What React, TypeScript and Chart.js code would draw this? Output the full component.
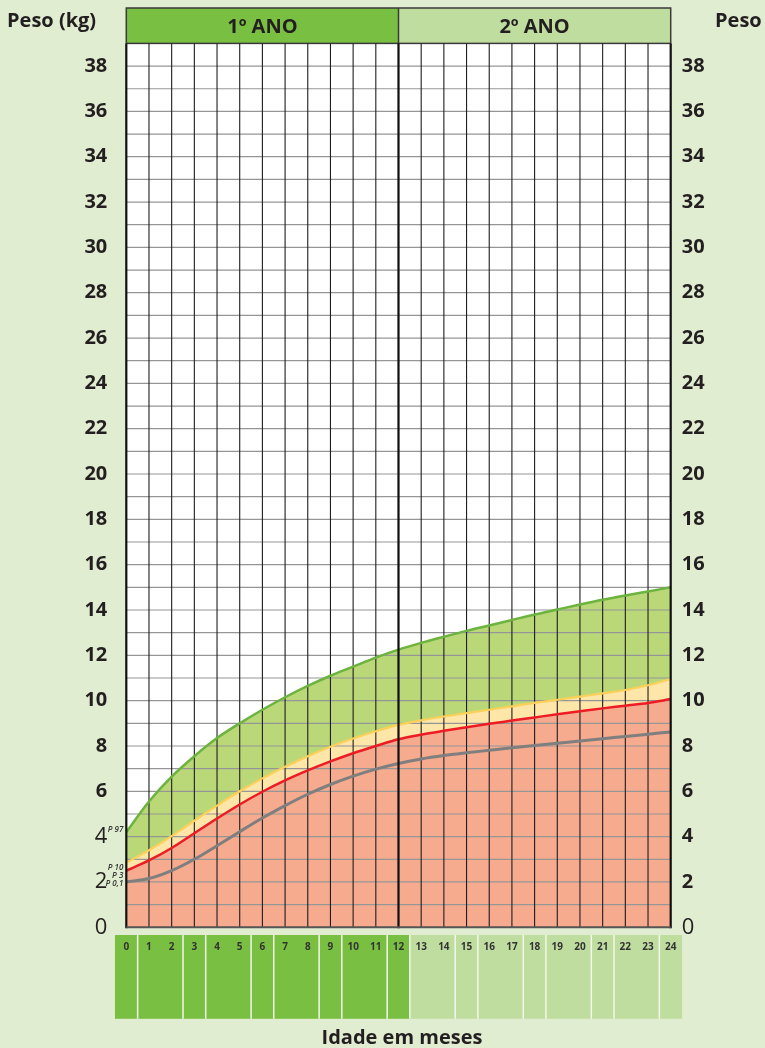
import React, { useEffect, useRef } from 'react';
import { Chart, registerables } from 'chart.js';

Chart.register(...registerables);

// ---- data ----
const months = [0, 1, 2, 3, 4, 5, 6, 7, 8, 9, 10, 11, 12, 13, 14, 15, 16, 17, 18, 19, 20, 21, 22, 23, 24];
const p97 = [4.2, 5.55, 6.65, 7.55, 8.35, 9.0, 9.6, 10.15, 10.65, 11.1, 11.5, 11.9, 12.25, 12.55, 12.82, 13.08, 13.32, 13.56, 13.8, 14.02, 14.24, 14.45, 14.64, 14.82, 15.0];
const p10 = [2.85, 3.4, 4.02, 4.7, 5.37, 6.0, 6.57, 7.08, 7.55, 7.97, 8.33, 8.65, 8.93, 9.13, 9.3, 9.45, 9.6, 9.75, 9.9, 10.04, 10.18, 10.32, 10.47, 10.68, 10.95];
const p3 = [2.5, 2.95, 3.5, 4.15, 4.8, 5.42, 5.98, 6.48, 6.92, 7.32, 7.68, 8.0, 8.3, 8.5, 8.67, 8.83, 8.98, 9.12, 9.26, 9.4, 9.53, 9.66, 9.78, 9.9, 10.07];
const p01 = [2.0, 2.15, 2.5, 3.0, 3.6, 4.22, 4.82, 5.37, 5.87, 6.3, 6.67, 6.98, 7.23, 7.43, 7.58, 7.7, 7.81, 7.92, 8.02, 8.12, 8.22, 8.32, 8.42, 8.52, 8.62];
const percentileNames = ['P 97', 'P 10', 'P 3', 'P 0,1'];
const yearLabels = ['1º ANO', '2º ANO'];
const bandBreaks = [-0.5, 0.5, 2.5, 3.5, 5.5, 6.5, 8.5, 9.5, 11.5, 12.5, 14.5, 15.5, 17.5, 18.5, 20.5, 21.5, 23.5, 24.5];
const yAxisTitle = 'Peso (kg)';
const xAxisTitle = 'Idade em meses';
const yMin = 0;
const yMax = 39;
const xMin = 0;
const xMax = 24;

// ---- styles ----
const FONT = '"Open Sans", "Noto Sans", sans-serif';
const BG = '#e0edd0';
const DARK_GREEN = '#79bf42';
const LIGHT_GREEN = '#bfdd9e';
const TEXT = '#231f20';

const pts = (arr: number[]) => months.map((m, i) => ({ x: m, y: arr[i] }));

const decor = {
  id: 'growthDecor',
  beforeDraw(chart: any) {
    const { ctx, chartArea: a, scales } = chart;
    const x = scales.x;
    ctx.save();
    ctx.fillStyle = BG;
    ctx.fillRect(0, 0, chart.width, chart.height);
    ctx.fillStyle = '#ffffff';
    ctx.fillRect(a.left, a.top, a.right - a.left, a.bottom - a.top);

    // header
    const hTop = 8;
    const xMid = x.getPixelForValue(12);
    ctx.fillStyle = DARK_GREEN;
    ctx.fillRect(a.left, hTop, xMid - a.left, a.top - hTop);
    ctx.fillStyle = LIGHT_GREEN;
    ctx.fillRect(xMid, hTop, a.right - xMid, a.top - hTop);
    ctx.strokeStyle = '#3a3a3a';
    ctx.lineWidth = 1.5;
    ctx.strokeRect(a.left, hTop, a.right - a.left, a.top - hTop);
    ctx.beginPath();
    ctx.moveTo(xMid, hTop);
    ctx.lineTo(xMid, a.top);
    ctx.stroke();
    ctx.fillStyle = TEXT;
    ctx.font = `bold 20px ${FONT}`;
    ctx.textAlign = 'center';
    ctx.textBaseline = 'middle';
    ctx.fillText(yearLabels[0], (a.left + xMid) / 2, (hTop + a.top) / 2 + 2);
    ctx.fillText(yearLabels[1], (xMid + a.right) / 2, (hTop + a.top) / 2 + 2);

    // bottom month band
    const bTop = a.bottom + 7.7;
    const bBot = a.bottom + 91.5;
    for (let i = 0; i < bandBreaks.length - 1; i++) {
      const x0 = x.getPixelForValue(bandBreaks[i]);
      const x1 = x.getPixelForValue(bandBreaks[i + 1]);
      ctx.fillStyle = bandBreaks[i] < 12 ? DARK_GREEN : LIGHT_GREEN;
      ctx.fillRect(x0, bTop, x1 - x0, bBot - bTop);
    }
    ctx.strokeStyle = '#f2f7ea';
    ctx.lineWidth = 1.5;
    for (let i = 1; i < bandBreaks.length - 1; i++) {
      const xp = x.getPixelForValue(bandBreaks[i]);
      ctx.beginPath();
      ctx.moveTo(xp, bTop);
      ctx.lineTo(xp, bBot);
      ctx.stroke();
    }
    ctx.restore();
  },
  beforeDatasetsDraw(chart: any) {
    const { ctx, chartArea: a, scales } = chart;
    const x = scales.x;
    const y = scales.y;
    ctx.save();
    // horizontal grid (every kg)
    ctx.strokeStyle = '#969696';
    ctx.lineWidth = 1.2;
    for (let v = yMin + 1; v < yMax; v++) {
      const yp = y.getPixelForValue(v);
      ctx.beginPath();
      ctx.moveTo(a.left, yp);
      ctx.lineTo(a.right, yp);
      ctx.stroke();
    }
    // vertical grid (every month)
    ctx.strokeStyle = '#1e1e1e';
    ctx.lineWidth = 1.1;
    for (let m = xMin + 1; m < xMax; m++) {
      const xp = x.getPixelForValue(m);
      ctx.beginPath();
      ctx.moveTo(xp, a.top);
      ctx.lineTo(xp, a.bottom);
      ctx.stroke();
    }
    ctx.restore();
  },
  afterDatasetsDraw(chart: any) {
    const { ctx, chartArea: a, scales } = chart;
    const x = scales.x;
    ctx.save();
    ctx.strokeStyle = '#111';
    ctx.lineWidth = 2.2;
    const x12 = x.getPixelForValue(12);
    [a.left, x12, a.right].forEach((xp: number) => {
      ctx.beginPath();
      ctx.moveTo(xp, a.top);
      ctx.lineTo(xp, a.bottom + 1);
      ctx.stroke();
    });
    ctx.strokeStyle = '#555';
    ctx.lineWidth = 2;
    ctx.beginPath();
    ctx.moveTo(a.left, a.bottom);
    ctx.lineTo(a.right, a.bottom);
    ctx.stroke();

    // percentile labels
    ctx.fillStyle = '#333';
    ctx.font = `italic 600 8px ${FONT}`;
    ctx.textAlign = 'right';
    ctx.textBaseline = 'middle';
    const lx = a.left - 3;
    ctx.fillText(percentileNames[0], lx, 830);
    ctx.fillText(percentileNames[1], lx, 868);
    ctx.fillText(percentileNames[2], lx, 876);
    ctx.fillText(percentileNames[3], lx, 884);
    ctx.restore();
  },
  afterDraw(chart: any) {
    const { ctx } = chart;
    ctx.save();
    ctx.fillStyle = TEXT;
    ctx.font = `bold 20px ${FONT}`;
    ctx.textBaseline = 'middle';
    ctx.textAlign = 'left';
    ctx.fillText(yAxisTitle, 7, 21);
    ctx.fillText(yAxisTitle, 715, 21);
    ctx.textAlign = 'center';
    ctx.fillText(xAxisTitle, 402, 1038);
    ctx.restore();
  },
};

export default function App() {
  const ref = useRef<HTMLCanvasElement | null>(null);
  useEffect(() => {
    if (!ref.current) return;
    const bold20 = { family: FONT, size: 20, weight: 'bold' as const };
    const big = { family: FONT, size: 22, weight: 'normal' as const };
    const chart = new Chart(ref.current, {
      type: 'line',
      data: {
        datasets: [
          {
            label: 'P97',
            data: pts(p97),
            borderColor: '#6cb33f',
            borderWidth: 2.5,
            backgroundColor: '#bad878',
            fill: '+1',
            order: 4,
          },
          {
            label: 'P10',
            data: pts(p10),
            borderColor: '#fdd059',
            borderWidth: 2.2,
            backgroundColor: '#fee5a8',
            fill: '+1',
            order: 3,
          },
          {
            label: 'P3',
            data: pts(p3),
            borderColor: '#ed1c24',
            borderWidth: 2.5,
            backgroundColor: '#f6aa8e',
            fill: 'origin',
            order: 2,
          },
          {
            label: 'P0.1',
            data: pts(p01),
            borderColor: '#7f7f7f',
            borderWidth: 3,
            fill: false,
            order: 1,
          },
        ],
      },
      options: {
        responsive: false,
        animation: false,
        devicePixelRatio: 1,
        elements: {
          point: { radius: 0 },
          line: { cubicInterpolationMode: 'monotone' },
        },
        layout: { padding: { top: 43.4, left: 0, right: 0, bottom: 0 } },
        plugins: {
          legend: { display: false },
          tooltip: { enabled: false },
          title: { display: false },
          filler: { drawTime: 'beforeDatasetsDraw', propagate: false },
        } as any,
        scales: {
          x: {
            type: 'linear',
            position: 'bottom',
            min: xMin,
            max: xMax,
            grid: { display: false, drawTicks: false },
            border: { display: false },
            afterFit: (s: any) => {
              s.height = 120.7;
            },
            ticks: {
              stepSize: 1,
              autoSkip: false,
              maxRotation: 0,
              maxTicksLimit: 100,
              padding: 14,
              color: '#333',
              font: { family: FONT, size: 10, weight: 'bold' },
            },
          },
          y: {
            type: 'linear',
            position: 'left',
            min: yMin,
            max: yMax,
            grid: { display: false, drawTicks: false },
            border: { display: false },
            afterFit: (s: any) => {
              s.width = 126.3;
            },
            ticks: {
              stepSize: 1,
              autoSkip: false,
              maxTicksLimit: 100,
              padding: 19,
              color: TEXT,
              callback: (v: any) => (Number(v) % 2 === 0 && Number(v) < yMax ? String(v) : ''),
              font: (c: any) => {
                const v = c.tick ? c.tick.value : -1;
                return v === 0 || v === 2 || v === 4 ? big : bold20;
              },
            },
          },
          y2: {
            type: 'linear',
            position: 'right',
            min: yMin,
            max: yMax,
            grid: { display: false, drawTicks: false },
            border: { display: false },
            afterFit: (s: any) => {
              s.width = 94.3;
            },
            ticks: {
              stepSize: 1,
              autoSkip: false,
              maxTicksLimit: 100,
              padding: 11,
              color: TEXT,
              callback: (v: any) => (Number(v) % 2 === 0 && Number(v) < yMax ? String(v) : ''),
              font: (c: any) => {
                const v = c.tick ? c.tick.value : -1;
                return v === 0 ? big : bold20;
              },
            },
          },
        },
      },
      plugins: [decor],
    });
    return () => chart.destroy();
  }, []);

  return (
    <div style={{ position: 'absolute', left: 0, top: 0, width: 765, height: 1048, background: BG }}>
      <canvas ref={ref} width={765} height={1048} style={{ display: 'block', width: 765, height: 1048 }} />
    </div>
  );
}
